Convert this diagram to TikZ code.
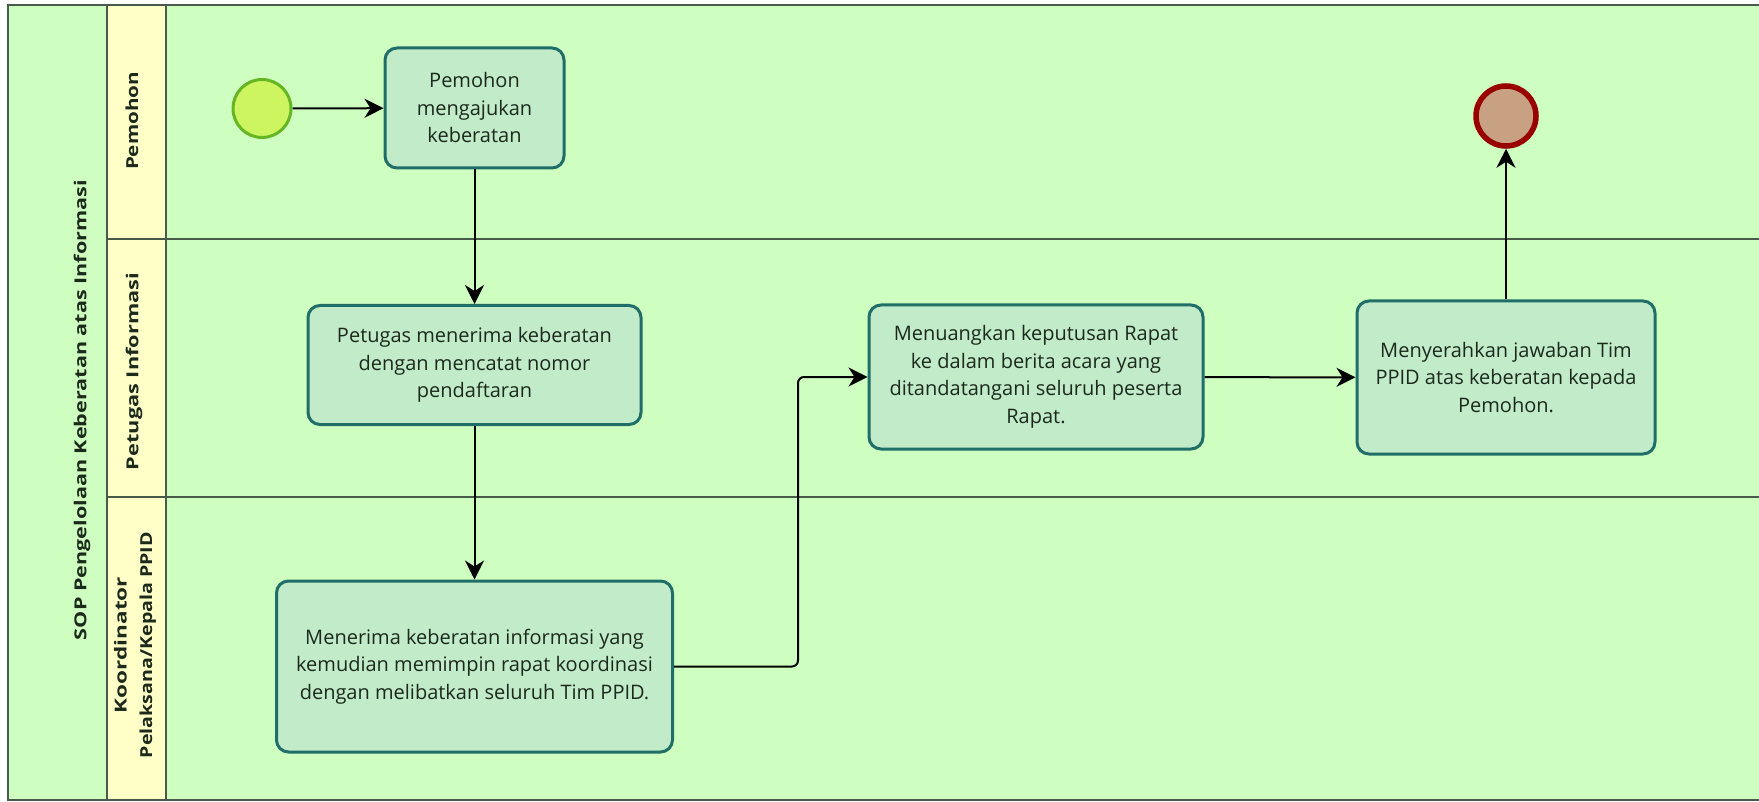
\documentclass[tikz,border=0pt]{standalone}
\usepackage{fontspec}
\usepackage{graphicx}
\setmainfont{Open Sans}
\usetikzlibrary{arrows.meta}

\definecolor{poolbg}{HTML}{CEFFC0}
\definecolor{lanehead}{HTML}{FFFFC8}
\definecolor{frameline}{HTML}{4A5A4A}
\definecolor{taskfill}{HTML}{C2EBC9}
\definecolor{taskline}{HTML}{1F6E68}
\definecolor{startfill}{HTML}{CCF560}
\definecolor{startline}{HTML}{66B522}
\definecolor{endfill}{HTML}{C8A182}
\definecolor{endline}{HTML}{990000}
\definecolor{inktext}{HTML}{1C2A1C}

% stretch a bold label to a given run length, keeping its height
\newcommand\stretchlabel[2]{\resizebox{#1}{\height}{#2}}

\tikzset{
  frame/.style={draw=frameline, line width=2.5pt},
  lanelabel/.style={rotate=90, font=\fontsize{16.5}{25.5}\selectfont\bfseries, text=inktext,
    align=center, inner sep=0pt},
  task/.style={draw=taskline, fill=taskfill, line width=3pt, rounded corners=12pt,
    align=center, text=inktext, font=\fontsize{20}{27.5}\selectfont, inner sep=0pt},
  startev/.style={circle, draw=startline, fill=startfill, line width=3pt, minimum size=58pt, inner sep=0pt},
  endev/.style={circle, draw=endline, fill=endfill, line width=5.5pt, minimum size=60pt, inner sep=0pt},
  flow/.style={draw=black, line width=2pt, -{Stealth[length=19pt, width=19pt, inset=6pt]}},
}

\begin{document}
\begin{tikzpicture}[x=1pt, y=-1pt]
  \useasboundingbox (0,0) rectangle (1759,802);
  \fill[white] (0,0) rectangle (1759,802);
  \begin{scope}
    \clip (0,0) rectangle (1759,802);
    % pool body and lane header column
    \fill[poolbg] (8,5) rectangle (1770,800);
    \fill[lanehead] (107,5) rectangle (166,800);
    % pool frame and lane separators
    \draw[frame] (1770,5) -- (8,5) -- (8,800) -- (1770,800);
    \draw[frame] (107,5) -- (107,800);
    \draw[frame] (166,5) -- (166,800);
    \draw[frame] (107,239) -- (1770,239);
    \draw[frame] (107,497) -- (1770,497);
  \end{scope}

  % pool and lane titles
  \node[lanelabel] (pool) at (82,410)
    {\stretchlabel{460pt}{SOP Pengelolaan Keberatan atas Informasi}};
  \node[lanelabel] (lane1) at (132,121) {\stretchlabel{98pt}{Pemohon}};
  \node[lanelabel] (lane2) at (134,371.5) {\stretchlabel{197pt}{Petugas Informasi}};
  \node[lanelabel] (lane3) at (135,645)
    {\stretchlabel{136pt}{Koordinator}\\\stretchlabel{226pt}{Pelaksana/Kepala PPID}};

  % events
  \node[startev] (start) at (262,108.5) {};
  \node[endev] (end) at (1506,116) {};

  % tasks
  \node[task, minimum width=179pt, minimum height=120pt] (t1) at (474.5,108)
    {Pemohon\\mengajukan\\keberatan};
  \node[task, minimum width=333pt, minimum height=119pt] (t2) at (474.5,365)
    {Petugas menerima keberatan\\dengan mencatat nomor\\pendaftaran};
  \node[task, minimum width=396pt, minimum height=171pt] (t3) at (474.5,666.5)
    {Menerima keberatan informasi yang\\kemudian memimpin rapat koordinasi\\dengan melibatkan seluruh Tim PPID.};
  \node[task, minimum width=334pt, minimum height=144pt] (t4) at (1036,377)
    {Menuangkan keputusan Rapat\\ke dalam berita acara yang\\ditandatangani seluruh peserta\\Rapat.};
  \node[task, minimum width=298pt, minimum height=153pt] (t5) at (1506,377.5)
    {Menyerahkan jawaban Tim\\PPID atas keberatan kepada\\Pemohon.};

  % sequence flows
  \coordinate (bend) at (798,666.5);
  \draw[flow] (start) -- (t1);
  \draw[flow] (t1) -- (t2);
  \draw[flow] (t2) -- (t3);
  \draw[flow, rounded corners=6pt] (t3.east) -- (bend) |- (t4.west);
  \draw[flow] (t4) -- (t5);
  \draw[flow] (t5) -- (end);
\end{tikzpicture}
\end{document}
